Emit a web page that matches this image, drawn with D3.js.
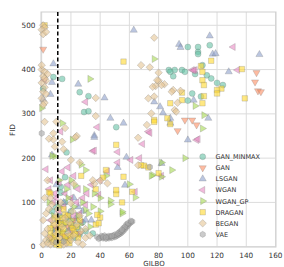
<!DOCTYPE html>
<html><head><meta charset="utf-8">
<script src="https://cdn.jsdelivr.net/npm/d3@7"></script>
<style>body{margin:0;background:#fff}svg{display:block}text{font-family:"DejaVu Sans",sans-serif;fill:#333}</style>
</head><body><svg id="c" width="284" height="267"></svg>
<script>
const seriesNames = ["GAN_MINMAX","GAN","LSGAN","WGAN","WGAN_GP","DRAGAN","BEGAN","VAE"];
const xTicks = [0,20,40,60,80,100,120,140,160];
const yTicks = [0,100,200,300,400,500];
const dashedX = 11;

const GAN_MINMAX = [[8,383],[14,379],[26,349],[32,340],[29,304],[32,306],[51,270],[87,399],[91,399],[96,399],[98,395],[90,385],[88,395],[100,451],[107,451],[107,440],[107,435],[115,455],[113,387],[124,365],[103,346],[109,339],[120,370],[116,380],[105,390],[110,410],[100,330],[1,357],[17,213],[13,135],[13,122],[16,157],[10,90],[18,60],[22,50],[25,40],[12,30],[30,35],[20,80],[16,20],[8,10],[28,55],[35,30],[5,15],[9,40],[14,50],[18,35],[22,20],[26,28],[12,70],[7,80],[16,100],[24,65]];
const GAN = [[1,446],[147,393],[146,372],[148,352],[150,350],[98,286],[103,286],[106,275],[93,262],[10,40],[15,25],[22,60],[6,20],[18,45],[26,30]];
const LSGAN = [[8,413],[7,371],[6,344],[1,333],[25,367],[43,336],[47,290],[56,279],[63,489],[94,457],[95,450],[115,476],[117,435],[119,436],[149,434],[128,395],[104,331],[77,327],[81,316],[83,302],[88,279],[88,290],[114,290],[36,251],[58,202],[52,179],[57,139],[82,188],[100,241],[7,207],[36,247],[12,60],[20,45],[25,90],[15,100],[30,60],[8,30],[18,70],[22,110],[28,80],[10,140],[34,60]];
const WGAN = [[2,376],[30,327],[38,270],[13,260],[35,216],[52,214],[36,217],[3,175],[18,179],[52,190],[61,196],[40,150],[31,120],[39,117],[9,120],[26,75],[131,451],[134,399],[73,260],[74,257],[69,232],[106,241],[67,200],[82,160],[64,124],[107,243],[5,130],[10,110],[12,145],[8,100],[20,110],[25,130],[45,170],[15,90],[22,70],[103,399],[105,399],[104,398],[6,60],[12,80],[16,120],[18,140],[24,100],[28,110],[14,170],[22,160],[30,95],[34,140],[10,45],[20,35],[6,150],[27,55]];
const WGAN_GP = [[33,379],[0,313],[14,279],[21,242],[9,204],[7,205],[30,173],[44,160],[27,185],[23,138],[47,104],[47,96],[55,75],[30,83],[77,424],[105,318],[110,267],[111,297],[98,200],[76,162],[82,158],[89,173],[60,141],[64,111],[55,79],[75,160],[82,190],[15,50],[20,60],[25,70],[18,110],[12,150],[28,100],[35,90],[40,110],[30,130],[8,70],[12,90],[22,90],[26,50],[32,75],[36,120],[17,130],[14,35],[20,150],[5,100],[40,80],[33,45]];
const DRAGAN = [[2,500],[56,418],[116,420],[109,408],[110,395],[110,376],[111,365],[137,401],[139,335],[123,357],[120,354],[120,346],[96,348],[88,324],[96,331],[110,324],[111,340],[77,286],[86,290],[77,282],[88,277],[51,230],[27,160],[44,173],[37,130],[51,119],[55,100],[40,66],[37,50],[5,123],[70,183],[73,179],[68,184],[80,166],[56,158],[62,124],[42,156],[51,128],[6,120],[16,72],[19,23],[39,53],[38,72],[8,10],[10,20],[12,15],[14,30],[15,40],[18,15],[20,25],[10,5],[6,30],[22,35],[16,55],[12,45],[25,20],[9,25],[13,8],[17,12],[20,50],[24,45],[11,60],[14,65],[8,50],[7,15],[11,35],[16,22],[19,8],[13,52],[21,42],[9,65],[18,70],[23,28],[12,3],[6,42],[26,60],[15,85]];
const BEGAN = [[1,500],[2,495],[0,490],[1,480],[3,485],[0,400],[2,395],[1,385],[3,375],[0,370],[2,360],[1,350],[3,345],[0,335],[2,325],[1,320],[4,390],[0,410],[2,380],[37,336],[37,295],[10,282],[16,268],[2,282],[8,256],[24,250],[8,242],[14,237],[9,226],[15,220],[20,196],[26,190],[23,247],[5,244],[77,472],[68,410],[74,405],[80,393],[80,375],[84,367],[78,363],[90,354],[79,376],[76,361],[82,365],[89,350],[95,352],[73,335],[77,339],[93,325],[91,309],[75,301],[72,275],[92,305],[66,246],[66,184],[40,149],[36,142],[22,142],[35,150],[45,143],[20,98],[7,96],[4,150],[6,110],[2,30],[5,20],[8,10],[10,30],[12,20],[15,5],[18,30],[20,15],[22,25],[25,10],[27,35],[4,40],[6,5],[14,45],[3,15],[7,60],[10,70],[24,50],[17,8],[30,20],[28,5],[1,60],[3,75],[5,85],[2,110],[9,50],[11,85],[13,100],[16,65],[19,55],[21,80],[26,70],[30,40],[33,25],[1,5],[4,8]];
const VAE = [[38,22],[40,20],[42,19],[44,18],[46,19],[48,20],[50,22],[51,24],[52,26],[53,28],[54,30],[55,33],[56,36],[57,40],[58,44],[59,48],[60,52],[61,55],[62,57],[45,22],[49,25],[53,32],[56,42],[58,50],[41,24],[43,25],[47,23],[39,18],[42,22],[46,24],[50,27],[52,30],[54,35],[57,45],[59,53],[61,58],[55,38],[44,21],[48,24],[0,256],[74,180],[10,10],[15,12]];

const data = [GAN_MINMAX,GAN,LSGAN,WGAN,WGAN_GP,DRAGAN,BEGAN,VAE];
const colors = ["#66c2a5","#fc8d62","#8da0cb","#e78ac3","#a6d854","#ffd92f","#e5c494","#a8a8a8"];

const hexagon = {draw(ctx,size){const r=Math.sqrt(size/2.598);for(let i=0;i<6;i++){const a=Math.PI/3*i+Math.PI/6;const px=r*Math.cos(a),py=r*Math.sin(a);i?ctx.lineTo(px,py):ctx.moveTo(px,py);}ctx.closePath();}};
const shapes = [
  {t:d3.symbolCircle,s:28,r:0},
  {t:d3.symbolTriangle,s:22,r:180},
  {t:d3.symbolTriangle,s:22,r:0},
  {t:d3.symbolTriangle,s:22,r:-90},
  {t:d3.symbolTriangle,s:22,r:90},
  {t:d3.symbolSquare,s:30,r:0},
  {t:d3.symbolSquare,s:28,r:45},
  {t:hexagon,s:24,r:0}
];

const m = {l:41,r:276,t:12,b:247};
const x = d3.scaleLinear().domain([0,160]).range([41.7,275.5]);
const y = d3.scaleLinear().domain([0,500]).range([246.7,25.3]);
const svg = d3.select("#c");

svg.append("g").selectAll("line").data(xTicks).join("line")
  .attr("x1",d=>x(d)).attr("x2",d=>x(d)).attr("y1",m.t).attr("y2",m.b)
  .attr("stroke","#dcdcdc").attr("stroke-width",1);
svg.append("g").selectAll("line").data(yTicks).join("line")
  .attr("y1",d=>y(d)).attr("y2",d=>y(d)).attr("x1",m.l).attr("x2",m.r)
  .attr("stroke","#dcdcdc").attr("stroke-width",1);
svg.append("rect").attr("x",m.l).attr("y",m.t).attr("width",m.r-m.l).attr("height",m.b-m.t)
  .attr("fill","none").attr("stroke","#cfcfcf").attr("stroke-width",1);

data.forEach((pts,i)=>{
  const sh = shapes[i];
  const sym = d3.symbol().type(sh.t).size(sh.s);
  svg.append("g").selectAll("path").data(pts).join("path")
    .attr("d",sym)
    .attr("transform",d=>`translate(${x(d[0])},${y(d[1])}) rotate(${sh.r})`)
    .attr("fill",colors[i]).attr("fill-opacity",0.6)
    .attr("stroke","#6b6b6b").attr("stroke-opacity",0.4).attr("stroke-width",0.6);
});

svg.append("line").attr("x1",x(dashedX)).attr("x2",x(dashedX)).attr("y1",m.t).attr("y2",m.b)
  .attr("stroke","#000").attr("stroke-width",1.5).attr("stroke-dasharray","4,2.5");

svg.append("g").selectAll("text").data(xTicks).join("text")
  .attr("x",d=>x(d)).attr("y",257.5).attr("text-anchor","middle").attr("font-size",7.3).text(d=>d);
svg.append("g").selectAll("text").data(yTicks).join("text")
  .attr("x",35.5).attr("y",d=>y(d)+2.6).attr("text-anchor","end").attr("font-size",7.3).text(d=>d);

svg.append("text").attr("x",154).attr("y",266).attr("text-anchor","middle").attr("font-size",7).text("GILBO");
svg.append("text").attr("transform",`translate(14.5,130) rotate(-90)`).attr("text-anchor","middle").attr("font-size",7.3).text("FID");

const lg = svg.append("g");
seriesNames.forEach((n,i)=>{
  const yy = 156.7 + i*11.1;
  const sh = shapes[i];
  lg.append("path").attr("d",d3.symbol().type(sh.t).size(sh.s)())
    .attr("transform",`translate(202.7,${yy}) rotate(${sh.r})`)
    .attr("fill",colors[i]).attr("fill-opacity",0.6)
    .attr("stroke","#6b6b6b").attr("stroke-opacity",0.4).attr("stroke-width",0.6);
  lg.append("text").attr("x",215.5).attr("y",yy+2.4).attr("font-size",6.5).text(n);
});
</script></body></html>
